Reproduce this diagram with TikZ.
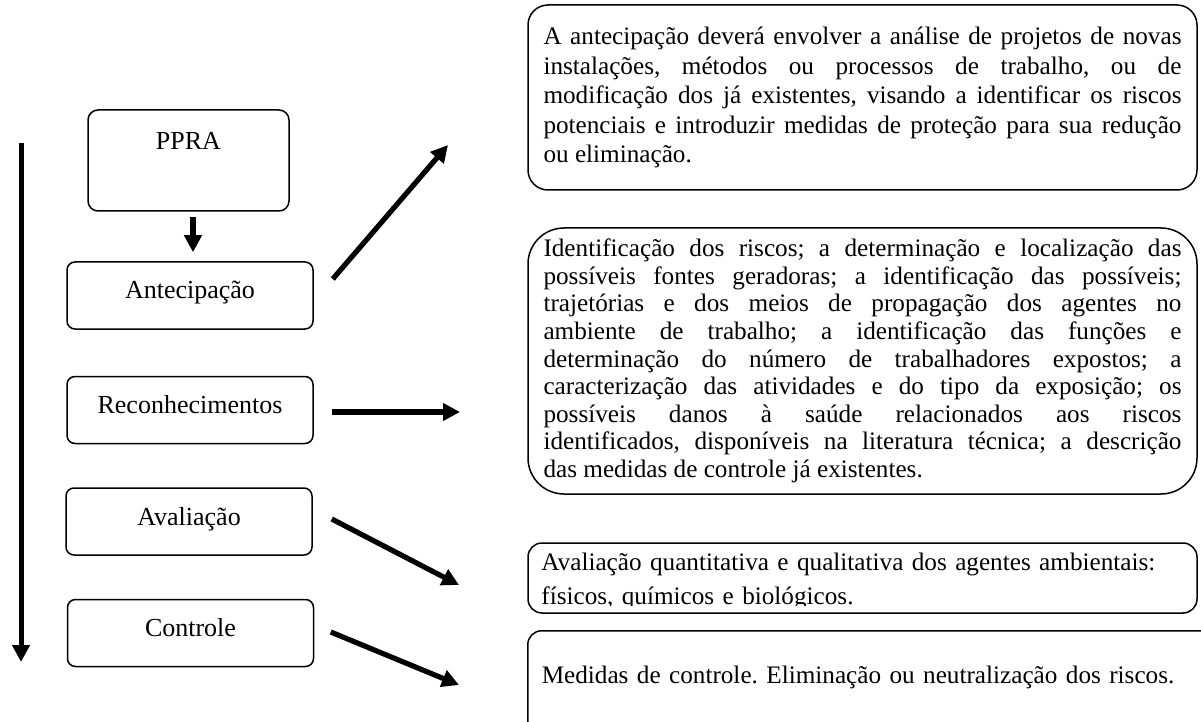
\documentclass[tikz,border=0pt]{standalone}
\usepackage{fontspec}
\setmainfont{Liberation Serif}
\usetikzlibrary{arrows.meta}
\frenchspacing
\tikzset{>={Triangle[length=8.5pt,width=8.5pt]}}
\tikzset{
  stagebox/.style={draw,line width=0.75pt,rounded corners=4pt,minimum width=123pt,
    inner ysep=4pt,text height=14.5pt,text depth=11pt},
  infobox/.style={draw,line width=0.75pt,text width=319pt,inner xsep=7.75pt,align=justify,
    font=\fontsize{12.6}{14.75}\selectfont},
  bigarrow/.style={->,line width=2.6pt}
}

\begin{document}
\begin{tikzpicture}[x=0.5pt,y=-0.5pt,font=\fontsize{13}{14.75}\selectfont]
  \useasboundingbox (0,0) rectangle (1201,722);
  \clip (0,0) rectangle (1201,722);
  % etapas do programa
  \node[stagebox,minimum width=100.5pt,rounded corners=5pt,text height=15.8pt,text depth=26.7pt] (ppra) at (188.5,160.5) {PPRA};
  \node[stagebox] (ant) at (190,295.5) {Antecipação};
  \node[stagebox] (rec) at (190,410) {Reconhecimentos};
  \node[stagebox] (aval) at (189,521.5) {Avaliação};
  \node[stagebox] (ctrl) at (190.5,633) {Controle};
  % descricoes
  \node[infobox,rounded corners=10pt,minimum height=92.5pt] (antinfo) at (862.5,97.5)
    {A antecipação deverá envolver a análise de projetos de novas\linebreak
     instalações, métodos ou processos de trabalho, ou de\linebreak
     modificação dos já existentes, visando a identificar os riscos\linebreak
     potenciais e introduzir medidas de proteção para sua redução\linebreak
     ou eliminação.};
  \node[infobox,rounded corners=18pt,minimum height=133pt,font=\fontsize{12.6}{13.8}\selectfont] (recinfo) at (862.5,361)
    {Identificação dos riscos; a determinação e localização das\linebreak
     possíveis fontes geradoras; a identificação das possíveis;\linebreak
     trajetórias e dos meios de propagação dos agentes no\linebreak
     ambiente de trabalho; a identificação das funções e\linebreak
     determinação do número de trabalhadores expostos; a\linebreak
     caracterização das atividades e do tipo da exposição; os\linebreak
     possíveis danos à saúde relacionados aos riscos\linebreak
     identificados, disponíveis na literatura técnica; a descrição\linebreak
     das medidas de controle já existentes.};
  \node[draw,line width=0.75pt,rounded corners=7pt,minimum width=334.5pt,minimum height=35pt] (avalinfo) at (862.5,578) {};
  \begin{scope}
    \clip (avalinfo.north west) rectangle (1197,605);
    \node[text width=318.5pt,align=left,inner sep=0pt,anchor=base west,font=\fontsize{12.6}{17}\selectfont] (avaltext) at (541,570)
      {Avaliação quantitativa e qualitativa dos agentes ambientais:\\
       físicos, químicos e biológicos.};
  \end{scope}
  \node[draw,line width=0.75pt,rounded corners=7pt,anchor=north west,text width=330pt,inner xsep=7pt,
    align=left,text height=23pt,text depth=40pt,font=\fontsize{12.6}{14.75}\selectfont] (ctrlinfo) at (527,630)
    {Medidas de controle. Eliminação ou neutralização dos riscos.};
  % setas
  \coordinate (start) at (21,143);
  \coordinate (finish) at (21,662);
  \draw[bigarrow,line width=2.5pt] (start) -- (finish);
  \draw[bigarrow] ([xshift=2.25pt,yshift=-2.5pt]ppra.south) -- ([xshift=1.5pt,yshift=4.5pt]ant.north);
  \coordinate (antend) at (448,145);
  \coordinate (recend) at (460,412);
  \coordinate (avalend) at (459,585);
  \coordinate (ctrlend) at (459,685);
  \draw[bigarrow] ([xshift=9.5pt,yshift=8.25pt]ant.east) -- (antend);
  \draw[bigarrow] ([xshift=9.25pt,yshift=-1pt]rec.east) -- (recend);
  \draw[bigarrow] ([xshift=9.5pt,yshift=1.25pt]aval.east) -- (avalend);
  \draw[bigarrow] ([xshift=8.25pt,yshift=0.5pt]ctrl.east) -- (ctrlend);
\end{tikzpicture}
\end{document}
